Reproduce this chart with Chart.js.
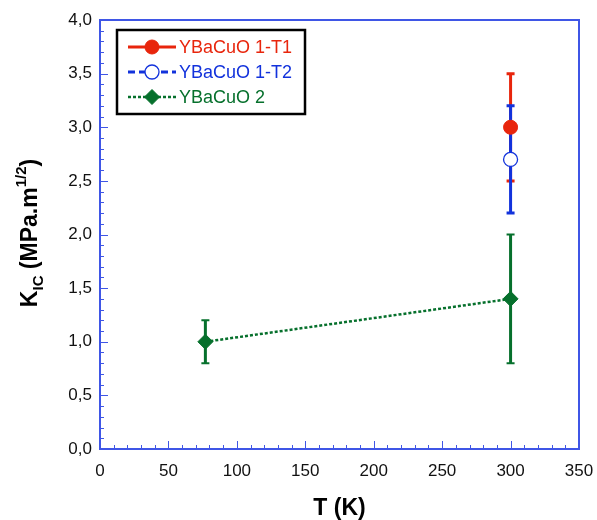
<!DOCTYPE html>
<html>
<head>
<meta charset="utf-8">
<script src="https://cdn.jsdelivr.net/npm/chart.js@4/dist/chart.umd.min.js"></script>
<style>
  html, body { margin: 0; padding: 0; background: #fff; }
  #wrap { width: 597px; height: 520px; }
</style>
</head>
<body>
<div id="wrap"><canvas id="graficaKic"></canvas></div>
<script>
// datos
var serieNombres = ['YBaCuO 1-T1', 'YBaCuO 1-T2', 'YBaCuO 2'];

var tempT1 = [300];
var kicT1 = [3.0];
var errT1Bajo = [2.5];
var errT1Alto = [3.5];

var tempT2 = [300];
var kicT2 = [2.7];
var errT2Bajo = [2.2];
var errT2Alto = [3.2];

var temp2 = [77, 300];
var kic2 = [1.0, 1.4];
var err2Bajo = [0.8, 0.8];
var err2Alto = [1.2, 2.0];

var xTicks = [0, 50, 100, 150, 200, 250, 300, 350];
var yTicks = [0, 0.5, 1, 1.5, 2, 2.5, 3, 3.5, 4];

var rojo = '#e8250c';
var azul = '#1232dc';
var verde = '#06702c';
var ejeColor = '#3f56e6';

function puntos(xs, ys) {
    return xs.map(function (x, i) { return { x: x, y: ys[i] }; });
}

var chartData = {
    datasets: [{
        label: serieNombres[0],
        data: puntos(tempT1, kicT1),
        showLine: false,
        pointStyle: 'circle',
        pointRadius: 7,
        pointBackgroundColor: rojo,
        pointBorderColor: rojo,
        pointBorderWidth: 1,
        errBajo: errT1Bajo, errAlto: errT1Alto, errColor: rojo, errAncho: 3, capAlto: 3
    }, {
        label: serieNombres[1],
        data: puntos(tempT2, kicT2),
        showLine: false,
        pointStyle: 'circle',
        pointRadius: 7,
        pointBackgroundColor: '#ffffff',
        pointBorderColor: azul,
        pointBorderWidth: 1.3,
        errBajo: errT2Bajo, errAlto: errT2Alto, errColor: azul, errAncho: 3, capAlto: 3
    }, {
        label: serieNombres[2],
        data: puntos(temp2, kic2),
        borderColor: verde,
        borderWidth: 2.5,
        borderDash: [3, 2],
        pointStyle: 'rectRot',
        pointRadius: 7.5,
        pointBackgroundColor: verde,
        pointBorderColor: verde,
        pointBorderWidth: 1,
        errBajo: err2Bajo, errAlto: err2Alto, errColor: verde, errAncho: 3, capAlto: 2
    }]
};

// barras de error
var barrasError = {
    id: 'barrasError',
    beforeDatasetsDraw: function (chart) {
        var ctx = chart.ctx;
        var xs = chart.scales.x, ys = chart.scales.y;
        chart.data.datasets.forEach(function (ds) {
            ctx.save();
            ctx.strokeStyle = ds.errColor;
            ds.data.forEach(function (p, i) {
                var px = xs.getPixelForValue(p.x);
                var y1 = ys.getPixelForValue(ds.errBajo[i]);
                var y2 = ys.getPixelForValue(ds.errAlto[i]);
                ctx.lineWidth = ds.errAncho;
                ctx.beginPath();
                ctx.moveTo(px, y1);
                ctx.lineTo(px, y2);
                ctx.stroke();
                ctx.lineWidth = ds.capAlto;
                ctx.beginPath();
                ctx.moveTo(px - 4, y1); ctx.lineTo(px + 4, y1);
                ctx.moveTo(px - 4, y2); ctx.lineTo(px + 4, y2);
                ctx.stroke();
            });
            ctx.restore();
        });
    }
};

// ejes azules con marcas hacia dentro
var ejes = {
    id: 'ejes',
    afterDraw: function (chart) {
        var ctx = chart.ctx, a = chart.chartArea;
        var xs = chart.scales.x, ys = chart.scales.y;
        ctx.save();
        ctx.strokeStyle = ejeColor;
        ctx.lineWidth = 1;
        ctx.beginPath();
        for (var v = 0; v <= 350; v += 10) {
            var px = Math.round(xs.getPixelForValue(v)) + 0.5;
            var len = (v % 50 === 0) ? 8 : 4;
            ctx.moveTo(px, a.bottom);
            ctx.lineTo(px, a.bottom - len);
        }
        for (var k = 0; k <= 40; k++) {
            var py = Math.round(ys.getPixelForValue(k / 10)) + 0.5;
            var l2 = (k % 5 === 0) ? 8 : 4;
            ctx.moveTo(a.left, py);
            ctx.lineTo(a.left + l2, py);
        }
        ctx.stroke();
        ctx.lineWidth = 2;
        ctx.strokeRect(a.left, a.top, a.right - a.left, a.bottom - a.top);
        ctx.restore();
    }
};

// leyenda con recuadro negro
var leyenda = {
    id: 'leyenda',
    afterDraw: function (chart) {
        var ctx = chart.ctx;
        ctx.save();
        ctx.fillStyle = '#fff';
        ctx.fillRect(117, 30, 188, 84);
        ctx.strokeStyle = '#000';
        ctx.lineWidth = 2.5;
        ctx.strokeRect(117, 30, 188, 84);
        var filas = [47, 72, 97];
        var estilos = [
            { color: rojo, dash: [], ancho: 3 },
            { color: azul, dash: [7, 4], ancho: 3 },
            { color: verde, dash: [3, 2], ancho: 2.5 }
        ];
        chart.data.datasets.forEach(function (ds, i) {
            var y = filas[i], e = estilos[i];
            ctx.strokeStyle = e.color;
            ctx.lineWidth = e.ancho;
            ctx.setLineDash(e.dash);
            ctx.beginPath();
            ctx.moveTo(128, y);
            ctx.lineTo(176, y);
            ctx.stroke();
            ctx.setLineDash([]);
            ctx.fillStyle = ds.pointBackgroundColor;
            ctx.strokeStyle = ds.pointBorderColor;
            ctx.lineWidth = ds.pointBorderWidth;
            ctx.beginPath();
            if (ds.pointStyle === 'circle') {
                ctx.arc(152, y, ds.pointRadius, 0, Math.PI * 2);
            } else {
                var r = ds.pointRadius;
                ctx.moveTo(152, y - r); ctx.lineTo(152 + r, y);
                ctx.lineTo(152, y + r); ctx.lineTo(152 - r, y);
                ctx.closePath();
            }
            ctx.fill();
            ctx.stroke();
            ctx.fillStyle = e.color;
            ctx.font = '18px "Liberation Sans", Arial, sans-serif';
            ctx.textBaseline = 'middle';
            ctx.textAlign = 'left';
            ctx.fillText(ds.label, 179, y + 1);
        });
        ctx.restore();
    }
};

// titulo del eje y con subindice y superindice
var tituloY = {
    id: 'tituloY',
    afterDraw: function (chart) {
        var ctx = chart.ctx;
        var grande = 'bold 23px "Liberation Sans", Arial, sans-serif';
        var chico = 'bold 15px "Liberation Sans", Arial, sans-serif';
        var partes = [
            { t: 'K', f: grande, dy: 0 },
            { t: 'IC', f: chico, dy: 6 },
            { t: ' (MPa.m', f: grande, dy: 0 },
            { t: '1/2', f: chico, dy: -11 },
            { t: ')', f: grande, dy: 0 }
        ];
        ctx.save();
        var total = 0;
        partes.forEach(function (p) { ctx.font = p.f; total += ctx.measureText(p.t).width; });
        ctx.translate(37, 233);
        ctx.rotate(-Math.PI / 2);
        ctx.fillStyle = '#000';
        ctx.textBaseline = 'alphabetic';
        ctx.textAlign = 'left';
        var x = -total / 2;
        partes.forEach(function (p) {
            ctx.font = p.f;
            ctx.fillText(p.t, x, p.dy);
            x += ctx.measureText(p.t).width;
        });
        ctx.restore();
    }
};

var chartOptions = {
    responsive: true,
    maintainAspectRatio: false,
    animation: false,
    layout: { padding: { left: 0, right: 18, top: 20, bottom: 0 } },
    plugins: { legend: { display: false }, tooltip: { enabled: false } },
    scales: {
        x: {
            type: 'linear',
            min: 0, max: 350,
            grid: { display: false, drawTicks: false },
            border: { display: false },
            afterBuildTicks: function (s) { s.ticks = xTicks.map(function (v) { return { value: v }; }); },
            afterFit: function (s) { s.height = 71; s.paddingRight = 0; s.paddingLeft = 0; },
            ticks: {
                color: '#111',
                padding: 12,
                maxRotation: 0,
                font: { family: '"Liberation Sans", Arial, sans-serif', size: 17 }
            },
            title: {
                display: true,
                text: 'T (K)',
                color: '#000',
                padding: 0,
                font: { family: '"Liberation Sans", Arial, sans-serif', size: 23, weight: 'bold', lineHeight: 1 }
            }
        },
        y: {
            type: 'linear',
            min: 0, max: 4,
            grid: { display: false, drawTicks: false },
            border: { display: false },
            afterBuildTicks: function (s) { s.ticks = yTicks.map(function (v) { return { value: v }; }); },
            afterFit: function (s) { s.width = 100; s.paddingTop = 0; s.paddingBottom = 0; },
            ticks: {
                color: '#111',
                padding: 8,
                font: { family: '"Liberation Sans", Arial, sans-serif', size: 17 },
                callback: function (v) { return v.toFixed(1).replace('.', ','); }
            }
        }
    }
};

var ctx = document.getElementById('graficaKic').getContext('2d');
var miGrafica = new Chart(ctx, {
    type: 'line',
    data: chartData,
    options: chartOptions,
    plugins: [barrasError, ejes, leyenda, tituloY]
});
</script>
</body>
</html>
